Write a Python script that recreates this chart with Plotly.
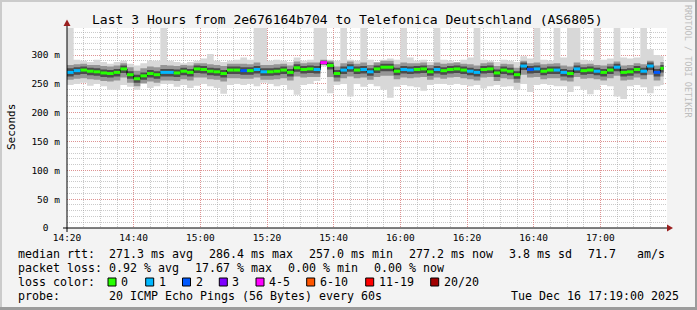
import plotly.graph_objects as go
import pandas as pd

# ---------------- data ----------------
START = "2025-12-16 14:20:00"
END = "2025-12-16 17:20:00"
LAST = "2025-12-16 17:19:00"
STEP = "2min"

median = [270, 273, 274, 272, 271, 269, 268, 270, 276, 266, 259, 264, 268, 266, 270,
          270, 269, 272, 270, 276, 275, 272, 271, 268, 274, 274, 273, 273, 275, 271,
          271, 272, 274, 270, 278, 275, 276, 275, 287, 282, 268, 274, 278, 274, 275, 271,
          276, 279, 279, 272, 275, 274, 275, 276, 271, 275, 273, 275, 276, 274, 272,
          270, 275, 276, 269, 274, 272, 266, 281, 275, 276, 272, 274, 274, 270, 268,
          276, 273, 274, 272, 270, 274, 279, 270, 271, 275, 272, 281, 270, 277]
loss = [1, 1, 0, 0, 0, 0, 0, 0, 0, 0, 0, 0, 0, 0, 1,
        1, 0, 0, 0, 0, 0, 0, 0, 0, 0, 0, 2, 0, 1, 1,
        0, 0, 0, 0, 0, 0, 0, 1, 4, 0, 0, 1, 1, 0, 1, 1,
        0, 0, 0, 0, 1, 1, 0, 0, 0, 1, 0, 0, 0, 0, 1,
        1, 0, 0, 0, 0, 0, 0, 1, 2, 1, 0, 0, 1, 1, 0,
        1, 0, 0, 1, 0, 0, 1, 0, 0, 0, 1, 1, 2, 0]
rtt_max = [360, 292, 290, 288, 292, 288, 285, 288, 290, 285, 282, 286, 290, 290, 360,
           290, 288, 286, 288, 290, 294, 302, 290, 288, 290, 292, 296, 292, 360, 355,
           290, 292, 290, 288, 296, 290, 292, 360, 360, 292, 290, 360, 292, 290, 360, 292,
           288, 292, 294, 292, 360, 296, 290, 292, 288, 360, 292, 290, 288, 292, 296,
           360, 292, 290, 288, 292, 290, 288, 298, 294, 360, 292, 290, 360, 296, 360,
           360, 292, 290, 360, 292, 294, 360, 296, 294, 296, 360, 310, 300, 298]
rtt_min = [248, 250, 252, 247, 250, 246, 240, 240, 248, 245, 240, 250, 243, 246, 250,
           250, 245, 248, 243, 247, 250, 246, 243, 233, 248, 250, 248, 250, 246, 252,
           250, 246, 248, 240, 231, 248, 250, 255, 280, 234, 248, 250, 228, 250, 245, 250,
           246, 240, 226, 245, 248, 246, 244, 238, 248, 250, 250, 248, 250, 248, 246,
           248, 242, 246, 248, 245, 246, 240, 250, 236, 248, 250, 248, 246, 246, 236,
           246, 240, 232, 240, 248, 246, 228, 224, 246, 248, 244, 234, 246, 248]
mid_hi = [283, 284, 285, 283, 283, 281, 280, 282, 286, 279, 273, 277, 280, 279, 283,
          282, 281, 283, 282, 286, 286, 284, 283, 281, 285, 285, 285, 284, 287, 283,
          283, 284, 285, 282, 289, 286, 287, 287, 292, 290, 280, 286, 289, 285, 287, 283,
          287, 290, 290, 284, 287, 286, 286, 287, 283, 287, 285, 286, 287, 285, 284,
          282, 286, 287, 281, 285, 284, 278, 290, 286, 287, 284, 285, 286, 282, 280,
          287, 284, 285, 283, 282, 285, 289, 282, 283, 286, 284, 290, 282, 288]
mid_lo = [257, 259, 260, 258, 257, 255, 254, 256, 261, 252, 246, 251, 254, 252, 256,
          256, 255, 258, 256, 261, 261, 258, 257, 254, 260, 260, 259, 259, 261, 257,
          257, 258, 260, 256, 263, 261, 262, 262, 283, 262, 254, 260, 263, 260, 261, 257,
          262, 264, 264, 258, 261, 260, 261, 262, 257, 261, 259, 261, 262, 260, 258,
          256, 261, 262, 255, 260, 258, 252, 266, 261, 262, 258, 260, 260, 256, 254,
          262, 259, 260, 258, 256, 260, 264, 256, 257, 261, 258, 266, 256, 263]
in_hi = [277, 279, 280, 278, 277, 275, 274, 276, 282, 272, 266, 270, 274, 272, 276,
         276, 275, 278, 276, 282, 281, 278, 277, 274, 280, 280, 279, 279, 281, 277,
         277, 278, 280, 276, 284, 281, 282, 281, 290, 287, 274, 280, 284, 280, 281, 277,
         282, 285, 285, 278, 281, 280, 281, 282, 277, 281, 279, 281, 282, 280, 278,
         276, 281, 282, 275, 280, 278, 272, 287, 281, 282, 278, 280, 280, 276, 274,
         282, 279, 280, 278, 276, 280, 285, 276, 277, 281, 278, 287, 276, 283]
in_lo = [263, 266, 267, 265, 264, 262, 261, 263, 269, 259, 252, 257, 261, 259, 263,
         263, 262, 265, 263, 269, 268, 265, 264, 261, 267, 267, 266, 266, 268, 264,
         264, 265, 267, 263, 271, 268, 269, 268, 284, 275, 261, 267, 271, 267, 268, 264,
         269, 272, 272, 265, 268, 267, 268, 269, 264, 268, 266, 268, 269, 267, 265,
         263, 268, 269, 262, 267, 265, 259, 274, 268, 269, 265, 267, 267, 263, 261,
         269, 266, 267, 265, 263, 267, 272, 263, 264, 268, 265, 274, 263, 270]

x_ticktext = ["14:20", "14:40", "15:00", "15:20", "15:40", "16:00", "16:20", "16:40", "17:00"]
y_tickvals = [0, 50, 100, 150, 200, 250, 300]
y_ticktext = ["0\u00a0\u00a0", "50 m", "100 m", "150 m", "200 m", "250 m", "300 m"]
loss_labels = ["0", "1", "2", "3", "4-5", "6-10", "11-19", "20/20"]
loss_colors = ["#26FF00", "#00B8FF", "#0059FF", "#7E00FF", "#FF00FF", "#FF5500", "#FF0000", "#A10000"]

title = "Last 3 Hours from 2e676164b704 to Telefonica Deutschland (AS6805)"
line1 = [("median rtt:", 16), ("271.3 ms avg", 107), ("286.4 ms max", 207), ("257.0 ms min", 307),
         ("277.2 ms now", 407), ("3.8 ms sd", 507), ("71.7", 586), ("am/s", 635)]
line2 = [("packet loss:", 16), ("0.92 % avg", 107), ("17.67 % max", 193), ("0.00 % min", 286),
         ("0.00 % now", 372)]
probe_text = "20 ICMP Echo Pings (56 Bytes) every 60s"
date_text = "Tue Dec 16 17:19:00 2025"

# ---------------- geometry (pixels) ----------------
W, H = 697, 310
PL, PR, PT, PB = 67, 667, 28, 228
YMAX = 347
MONO = "DejaVu Sans Mono"


def px(x):
    return (x - PL) / (PR - PL)


def py(y):
    return (PB - y) / (PB - PT)


def loss_class(n):
    if n <= 3:
        return n
    if n <= 5:
        return 4
    if n <= 10:
        return 5
    if n <= 19:
        return 6
    return 7


times = list(pd.date_range(START, periods=len(median), freq=STEP))
x_edges = times + [pd.Timestamp(LAST)]
x_tickvals = ["2025-12-16 " + t + ":00" for t in x_ticktext]


def stepped(vals):
    return list(vals) + [vals[-1]]


fig = go.Figure()

bands = [(rtt_min, rtt_max, "#D8D8D8"), (mid_lo, mid_hi, "#969696"), (in_lo, in_hi, "#4C4C4C")]
for lo, hi, col in bands:
    fig.add_trace(go.Scatter(x=x_edges, y=stepped(lo), mode="lines", line=dict(width=0, shape="hv"),
                             hoverinfo="skip", showlegend=False))
    fig.add_trace(go.Scatter(x=x_edges, y=stepped(hi), mode="lines", line=dict(width=0, shape="hv"),
                             fill="tonexty", fillcolor=col, hoverinfo="skip", showlegend=False))

# black connector of the median
fig.add_trace(go.Scatter(x=x_edges, y=stepped(median), mode="lines",
                         line=dict(width=1, color="#000000", shape="hv"), showlegend=False))

# coloured median segments by loss class
for ci, col in enumerate(loss_colors):
    xs, ys = [], []
    for k, m in enumerate(median):
        if loss_class(loss[k]) == ci:
            xs += [x_edges[k], x_edges[k + 1], None]
            ys += [m, m, None]
    if xs:
        fig.add_trace(go.Scatter(x=xs, y=ys, mode="lines", line=dict(width=3, color=col),
                                 showlegend=False))

shapes = []
# frame shading
shapes.append(dict(type="rect", xref="paper", yref="paper", x0=px(0), x1=px(W), y0=py(0), y1=py(2),
                   fillcolor="#CBCBCB", line=dict(width=0), layer="above"))
shapes.append(dict(type="rect", xref="paper", yref="paper", x0=px(0), x1=px(2), y0=py(0), y1=py(H),
                   fillcolor="#CBCBCB", line=dict(width=0), layer="above"))
shapes.append(dict(type="rect", xref="paper", yref="paper", x0=px(0), x1=px(W), y0=py(H - 3), y1=py(H),
                   fillcolor="#9C9C9C", line=dict(width=0), layer="above"))
shapes.append(dict(type="rect", xref="paper", yref="paper", x0=px(W - 2), x1=px(W), y0=py(0), y1=py(H),
                   fillcolor="#9C9C9C", line=dict(width=0), layer="above"))
# axes
shapes.append(dict(type="line", xref="paper", yref="paper", x0=px(63), x1=px(669), y0=py(228), y1=py(228),
                   line=dict(color="#000000", width=1), layer="above"))
shapes.append(dict(type="line", xref="paper", yref="paper", x0=px(67), x1=px(67), y0=py(232), y1=py(24),
                   line=dict(color="#000000", width=1), layer="above"))


def path(points):
    return "M " + " L ".join(f"{px(a)},{py(b)}" for a, b in points) + " Z"


shapes.append(dict(type="path", xref="paper", yref="paper", path=path([(667, 224.5), (673, 228), (667, 231.5)]),
                   fillcolor="#9A1F1F", line=dict(width=0), layer="above"))
shapes.append(dict(type="path", xref="paper", yref="paper", path=path([(63.5, 26), (67, 19.5), (70.5, 26)]),
                   fillcolor="#9A1F1F", line=dict(width=0), layer="above"))

annotations = []


def txt(t, x, y, size=11.63, anchor="left", color="#000000", angle=0):
    annotations.append(dict(text=t, x=px(x), y=py(y), xref="paper", yref="paper", showarrow=False,
                            xanchor=anchor, yanchor="middle", textangle=angle,
                            font=dict(family=MONO, size=size, color=color)))


txt(title, 347.5, 19, size=13.06, anchor="center")
txt("Seconds", 11, 127, size=11, anchor="center", angle=-90)
txt("RRDTOOL / TOBI OETIKER", 688, 61, size=8.5, anchor="center", color="#BDBDBD", angle=90)
for t, x in line1:
    txt(t, x, 254)
for t, x in line2:
    txt(t, x, 268)
txt("loss color:", 16, 282)
box_x = [108, 145.7, 182.5, 219.3, 256, 306.7, 365.7, 430.7]
for bx, lab, col in zip(box_x, loss_labels, loss_colors):
    shapes.append(dict(type="rect", xref="paper", yref="paper", x0=px(bx), x1=px(bx + 8), y0=py(278), y1=py(286),
                       fillcolor=col, line=dict(color="#000000", width=1), layer="above"))
    txt(lab, bx + 11, 282)
txt("probe:", 16, 296)
txt(probe_text, 107, 296)
txt(date_text, 680.5, 296, anchor="right")

MAJ = "rgba(235,110,110,0.6)"
MIN = "rgba(150,150,150,0.5)"

fig.update_layout(
    width=W, height=H,
    margin=dict(l=PL, r=W - PR, t=PT, b=H - PB, pad=0),
    paper_bgcolor="#F3F3F3", plot_bgcolor="#FFFFFF",
    showlegend=False,
    shapes=shapes, annotations=annotations,
    xaxis=dict(type="date", range=[START, END], tickmode="array", tickvals=x_tickvals, ticktext=x_ticktext,
               showgrid=True, gridcolor=MAJ, gridwidth=1, griddash="1px,1px",
               minor=dict(tickmode="linear", dtick=300000, tick0=START, showgrid=True, gridcolor=MIN,
                          gridwidth=1, griddash="1px,1px"),
               showline=False, zeroline=False, ticks="", fixedrange=True,
               tickfont=dict(family=MONO, size=9.5, color="#000000"), ticklabelstandoff=2),
    yaxis=dict(range=[0, YMAX], tickvals=y_tickvals, ticktext=y_ticktext,
               showgrid=True, gridcolor=MAJ, gridwidth=1, griddash="1px,1px",
               minor=dict(tickmode="linear", dtick=10, tick0=0, showgrid=True, gridcolor=MIN, gridwidth=1,
                          griddash="1px,1px"),
               showline=False, zeroline=False, ticks="", fixedrange=True,
               tickfont=dict(family=MONO, size=9.5, color="#000000"), ticklabelstandoff=6),
)

fig.write_html("out.html")
